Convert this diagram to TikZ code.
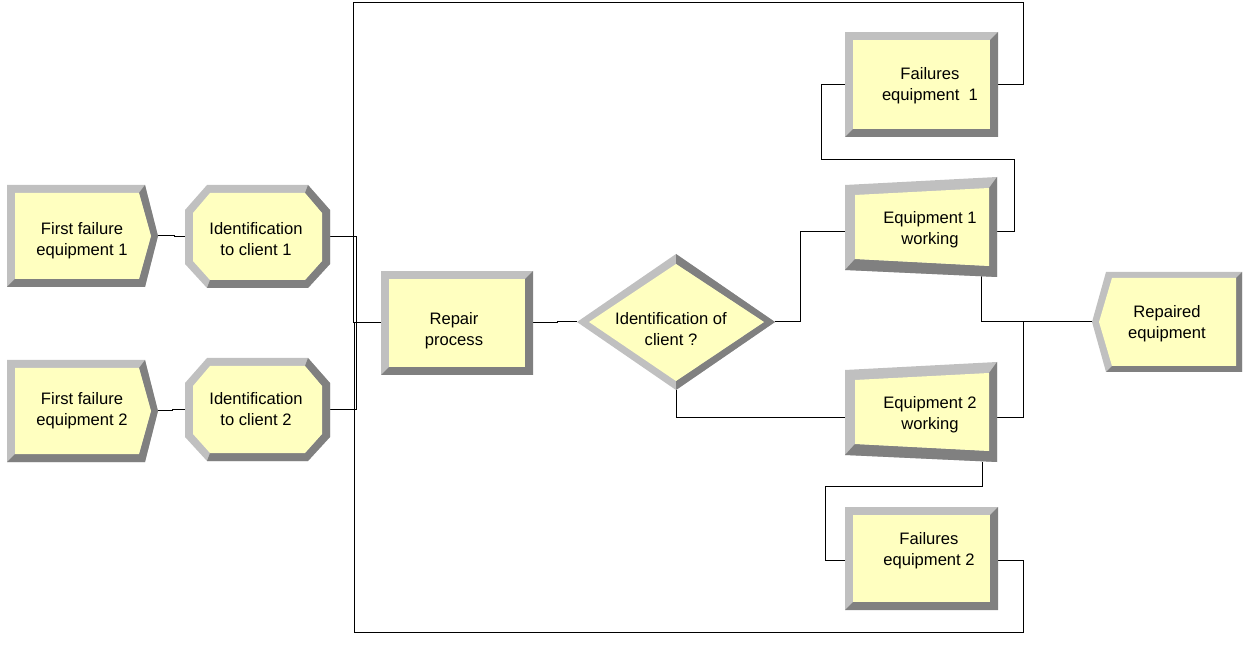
\documentclass[tikz,border=0pt]{standalone}
\usepackage{fontspec}
\setmainfont{Liberation Sans}
\definecolor{bevlight}{HTML}{C0C0C0}
\definecolor{bevdark}{HTML}{808080}
\definecolor{modfill}{HTML}{FFFFC0}
\begin{document}
\begin{tikzpicture}[x=0.75pt,y=-0.75pt,
  lbl/.style={align=center,inner sep=0pt,font=\fontsize{12.45pt}{15.75pt}\selectfont},
  conn/.style={draw=black,line width=0.75pt},
  light/.style={fill=bevlight},
  dark/.style={fill=bevdark},
  face/.style={fill=modfill}]
\useasboundingbox (0,0) rectangle (1254,645);

% ports
\coordinate (c1-out) at (158,236);
\coordinate (id1-in) at (185,237);
\coordinate (id1-out) at (330,237);
\coordinate (c2-out) at (158,411);
\coordinate (id2-in) at (185,410);
\coordinate (id2-out) at (330,410);
\coordinate (rep-in) at (381,323);
\coordinate (rep-out) at (533,323);
\coordinate (dec-in) at (577,322);
\coordinate (dec-r) at (775,322);
\coordinate (dec-b) at (676,390);
\coordinate (f1-in) at (845,85);
\coordinate (f1-out) at (998,85);
\coordinate (e1-in) at (845,232);
\coordinate (e1-out) at (997,232);
\coordinate (e1-b) at (981,276);
\coordinate (e2-in) at (845,418);
\coordinate (e2-out) at (997,418);
\coordinate (e2-b) at (982,462);
\coordinate (f2-in) at (845,560);
\coordinate (f2-out) at (998,560);
\coordinate (disp-in) at (1092,322);

% connectors
\draw[conn] (c1-out) -- ++(16,0) -- ++(0,1) -- (id1-in);
\draw[conn] (c2-out) -- ++(14,0) -- ++(0,-1) -- (id2-in);
\draw[conn] (id1-out) -- (356,237) -- (356,323) -- (rep-in);
\draw[conn] (id2-out) -- (356,410) -- (356,323) -- (rep-in);
\draw[conn] (f1-out) -- (1023,85) -- (1023,3) -- (353,3) -- (353,323) -- (rep-in);
\draw[conn] (f2-out) -- (1023,560) -- (1023,632) -- (354,632) -- (354,323) -- (rep-in);
\draw[conn] (rep-out) -- (557,323) -- (557,322) -- (dec-in);
\draw[conn] (dec-r) -- (800,322) -- (800,232) -- (e1-in);
\draw[conn] (dec-b) -- (676,418) -- (e2-in);
\draw[conn] (e1-out) -- (1014,232) -- (1014,160) -- (821,160) -- (821,85) -- (f1-in);
\draw[conn] (e1-b) -- (981,322) -- (disp-in);
\draw[conn] (e2-out) -- (1023,418) -- (1023,322) -- (disp-in);
\draw[conn] (e2-b) -- (982,486) -- (825,486) -- (825,560) -- (f2-in);

% Create modules
\foreach \dy in {0,175}{
\begin{scope}[shift={(0,\dy)}]
\fill[light] (7,185) -- (145,185) -- (158,236) -- (145,287) -- (7,287) -- cycle;
\fill[dark] (145,185) -- (158,236) -- (145,287) -- (7,287) -- (15,279) -- (139,279) -- (151,236) -- (139,193) -- cycle;
\fill[face] (15,193) -- (139,193) -- (151,236) -- (139,279) -- (15,279) -- cycle;
\end{scope}}

% Assign modules
\foreach \dy in {0,173}{
\begin{scope}[shift={(0,\dy)}]
\fill[light] (207,185) -- (308,185) -- (330,210) -- (330,264) -- (308,288) -- (207,288) -- (185,264) -- (185,210) -- cycle;
\fill[dark] (308,185) -- (330,210) -- (330,264) -- (308,288) -- (207,288) -- (210,280) -- (305,280) -- (322,261) -- (322,213) -- (305,193) -- cycle;
\fill[face] (210,193) -- (305,193) -- (322,213) -- (322,261) -- (305,280) -- (210,280) -- (193,261) -- (193,213) -- cycle;
\end{scope}}

% Repair process
\fill[light] (381,271) rectangle (533,375);
\fill[dark] (533,271) -- (533,375) -- (381,375) -- (389,367) -- (525,367) -- (525,279) -- cycle;
\fill[face] (389,279) rectangle (525,367);

% Decide
\fill[light] (577,322) -- (676,254) -- (775,322) -- (676,390) -- cycle;
\fill[dark] (676,254) -- (775,322) -- (676,390) -- (676,381) -- (764,322) -- (676,264) -- cycle;
\fill[face] (589,322) -- (676,264) -- (764,322) -- (676,381) -- cycle;

% Failures modules
\foreach \ya/\yb in {32/137,507/610}{
\fill[light] (845,\ya) rectangle (998,\yb);
\fill[dark] (998,\ya) -- (998,\yb) -- (845,\yb) -- (853,\yb-8) -- (990,\yb-8) -- (990,\ya+8) -- cycle;
\fill[face] (853,\ya+8) rectangle (990,\yb-8);
}

% Equipment working modules
\foreach \dy in {0,185}{
\begin{scope}[shift={(0,\dy)}]
\fill[light] (845,185) -- (997,177) -- (997,277) -- (845,270) -- cycle;
\fill[dark] (997,177) -- (997,277) -- (845,270) -- (855,259) -- (989,266) -- (989,188) -- cycle;
\fill[face] (855,195) -- (989,188) -- (989,266) -- (855,259) -- cycle;
\end{scope}}

% Dispose
\fill[light] (1092,322) -- (1106,272) -- (1242,272) -- (1242,372) -- (1106,372) -- cycle;
\fill[dark] (1242,272) -- (1242,372) -- (1106,372) -- (1112,366) -- (1236,366) -- (1236,278) -- cycle;
\fill[face] (1099,322) -- (1112,278) -- (1236,278) -- (1236,366) -- (1112,366) -- cycle;

% labels
\node[lbl] (c1) at (82,241) {First failure\\equipment 1};
\node[lbl] (c2) at (82,411) {First failure\\equipment 2};
\node[lbl] (id1) at (256,239.5) {Identification\\to client 1};
\node[lbl] (id2) at (256,409.5) {Identification\\to client 2};
\node[lbl] (rep) at (454,331) {Repair\\process};
\node[lbl] (dec) at (671,329) {Identification of\\client ?};
\node[lbl] (f1) at (930,86) {Failures\\equipment~~1};
\node[lbl] (e1) at (930,230) {Equipment 1\\working};
\node[lbl] (e2) at (930,415) {Equipment 2\\working};
\node[lbl] (f2) at (929,551) {Failures\\equipment 2};
\node[lbl] (disp) at (1167,324) {Repaired\\equipment};
\end{tikzpicture}
\end{document}
